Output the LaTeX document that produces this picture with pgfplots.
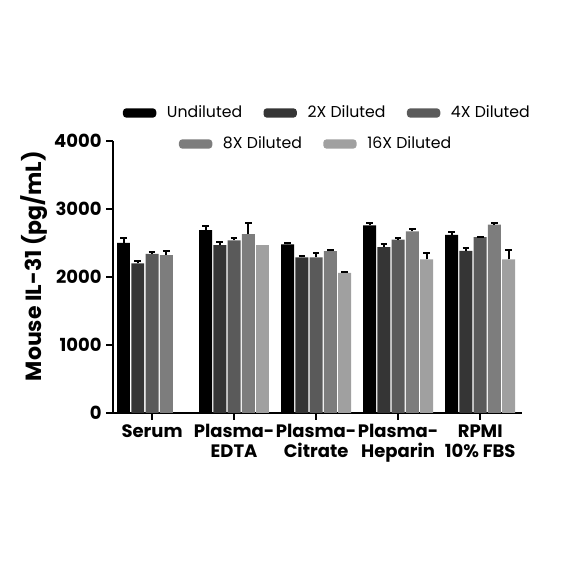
\documentclass[border=0pt]{standalone}
\usepackage{fontspec}
\setmainfont{Poppins}
\usepackage{pgfplots}
\pgfplotsset{compat=1.18}
\definecolor{c1}{HTML}{000000}
\definecolor{c2}{HTML}{353535}
\definecolor{c3}{HTML}{5A5A5A}
\definecolor{c4}{HTML}{7D7D7D}
\definecolor{c5}{HTML}{A0A0A0}
\pgfplotsset{
  mylegend/.style={
    legend style={draw=none, fill=none, font=\fontsize{11.8}{13}\selectfont,
      /tikz/every odd column/.append style={column sep=6pt},
      /tikz/every even column/.append style={column sep=14pt}},
    legend image code/.code={\fill[##1, draw=none, rounded corners=2.5pt] (0pt,-3.5pt) rectangle (25pt,3.5pt);},
  }
}
\begin{document}
\begin{tikzpicture}
\useasboundingbox (-84.75pt,-128.25pt) rectangle (353.25pt,309.75pt);
\begin{axis}[
  at={(0pt,0pt)}, anchor=south west,
  width=306.75pt, height=204pt, scale only axis,
  xmin=-0.476, xmax=4.51, ymin=0, ymax=4000,
  axis x line*=bottom, axis y line*=left,
  axis line style={line width=1.5pt, black},
  ytick={0,1000,2000,3000,4000},
  xtick={0,1,2,3,4},
  xticklabels={Serum, {Plasma-\\EDTA}, {Plasma-\\Citrate}, {Plasma-\\Heparin}, {RPMI\\10\% FBS}},
  x tick label style={align=center, font=\bfseries\fontsize{13.5}{15}\selectfont},
  y tick label style={font=\bfseries\fontsize{13.5}{15}\selectfont},
  /pgf/number format/assume math mode=true,
  /pgf/number format/1000 sep={},
  tick style={line width=1.5pt, black},
  tick align=outside, major tick length=5pt,
  ylabel={Mouse IL-31 (pg/mL)},
  ylabel style={font=\bfseries\fontsize{16.5}{18}\selectfont, at={(ticklabel cs:0.54)}, yshift=-2pt},
  ybar=1pt, bar width=9.7pt,
  error bars/y dir=plus, error bars/y explicit,
  error bars/error bar style={line width=1.5pt, black},
  error bars/error mark options={line width=1.5pt, black, mark size=2.5pt, rotate=90},
  mylegend,
  legend columns=3,
  legend style={at={(0.525,1.103)}, anchor=center},
]
\addplot[fill=c1, draw=none] coordinates {(0,2500) +- (0,70) (1,2690) +- (0,60) (2,2480) +- (0,15) (3,2760) +- (0,30) (4,2620) +- (0,40)};
\addlegendentry{Undiluted}
\addplot[fill=c2, draw=none] coordinates {(0,2200) +- (0,40) (1,2470) +- (0,45) (2,2290) +- (0,20) (3,2440) +- (0,45) (4,2385) +- (0,35)};
\addlegendentry{2X Diluted}
\addplot[fill=c3, draw=none] coordinates {(0,2340) +- (0,25) (1,2540) +- (0,30) (2,2290) +- (0,60) (3,2550) +- (0,20) (4,2585) +- (0,10)};
\addlegendentry{4X Diluted}
\addplot[fill=c4, draw=none] coordinates {(0,2320) +- (0,60) (1,2630) +- (0,170) (2,2380) +- (0,15) (3,2670) +- (0,30) (4,2770) +- (0,20)};
\addplot[fill=c5, draw=none] coordinates {(2,2060) +- (0,15) (3,2260) +- (0,90) (4,2260) +- (0,130)};
\addplot[fill=c5, draw=none, forget plot, bar shift=21.4pt, error bars/y dir=none] coordinates {(1,2475)};
\end{axis}
\begin{axis}[
  at={(0pt,0pt)}, anchor=south west,
  width=306.75pt, height=204pt, scale only axis,
  hide axis, xmin=0, xmax=1, ymin=0, ymax=1,
  mylegend,
  legend columns=2,
  legend style={at={(0.4975,0.989)}, anchor=center},
]
\addlegendimage{fill=c4}
\addlegendentry{8X Diluted}
\addlegendimage{fill=c5}
\addlegendentry{16X Diluted}
\end{axis}
\end{tikzpicture}
\end{document}
